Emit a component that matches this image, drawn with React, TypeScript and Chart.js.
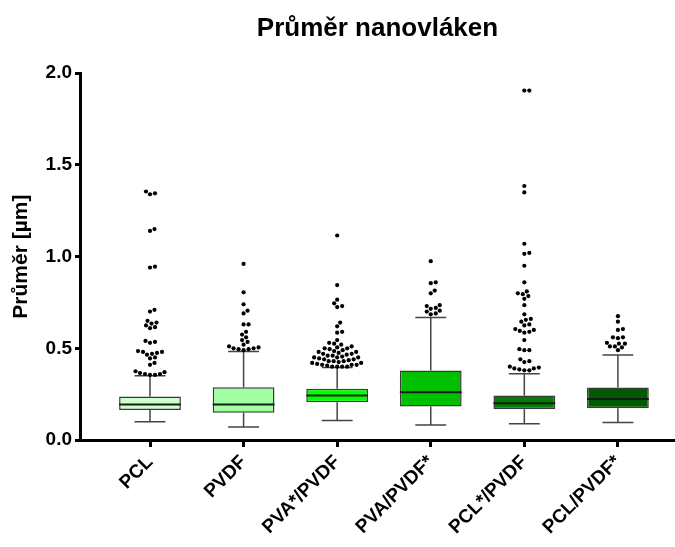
import { useEffect, useRef } from "react";
import { Chart, registerables } from "chart.js";

Chart.register(...registerables);

const categories = ["PCL", "PVDF", "PVA*/PVDF", "PVA/PVDF*", "PCL*/PVDF", "PCL/PVDF*"];
const whiskerLow = [0.1, 0.071, 0.106, 0.082, 0.089, 0.095];
const q1 = [0.164, 0.149, 0.206, 0.182, 0.168, 0.173];
const median = [0.193, 0.193, 0.242, 0.26, 0.2, 0.224];
const q3 = [0.237, 0.288, 0.28, 0.379, 0.242, 0.286];
const whiskerHigh = [0.35, 0.483, 0.395, 0.668, 0.361, 0.464];

const outliersPCL = [1.355, 1.345, 1.34, 1.15, 1.14, 0.945, 0.94, 0.71, 0.7, 0.65, 0.64, 0.635, 0.625, 0.615, 0.61, 0.54, 0.535, 0.53, 0.485, 0.48, 0.48, 0.475, 0.47, 0.465, 0.45, 0.445, 0.42, 0.41, 0.375, 0.37, 0.365, 0.36, 0.36, 0.355, 0.355];
const outliersPVDF = [0.96, 0.805, 0.74, 0.705, 0.69, 0.63, 0.63, 0.59, 0.575, 0.56, 0.545, 0.535, 0.52, 0.51, 0.505, 0.5, 0.5, 0.495, 0.495, 0.49];
const outliersPVAsPVDF = [1.115, 0.845, 0.765, 0.745, 0.73, 0.725, 0.64, 0.62, 0.59, 0.585, 0.545, 0.53, 0.525, 0.52, 0.51, 0.505, 0.5, 0.5, 0.495, 0.49, 0.485, 0.48, 0.48, 0.475, 0.47, 0.47, 0.465, 0.46, 0.46, 0.455, 0.45, 0.45, 0.45, 0.445, 0.44, 0.44, 0.435, 0.43, 0.43, 0.43, 0.425, 0.42, 0.42, 0.415, 0.41, 0.41, 0.41, 0.405, 0.4, 0.4, 0.4, 0.4];
const outliersPVAPVDFs = [0.975, 0.86, 0.855, 0.815, 0.8, 0.735, 0.73, 0.72, 0.715, 0.705, 0.7, 0.69, 0.685];
const outliersPCLsPVDF = [1.905, 1.905, 1.385, 1.35, 1.07, 1.02, 1.015, 0.95, 0.86, 0.81, 0.8, 0.795, 0.785, 0.77, 0.735, 0.685, 0.66, 0.655, 0.645, 0.63, 0.625, 0.605, 0.6, 0.595, 0.59, 0.585, 0.545, 0.495, 0.49, 0.49, 0.44, 0.43, 0.425, 0.4, 0.395, 0.39, 0.39, 0.385, 0.38, 0.38];
const outliersPCLPVDFs = [0.675, 0.645, 0.605, 0.6, 0.56, 0.56, 0.555, 0.53, 0.525, 0.525, 0.51, 0.51, 0.505, 0.49];
const outliers = [outliersPCL, outliersPVDF, outliersPVAsPVDF, outliersPVAPVDFs, outliersPCLsPVDF, outliersPCLPVDFs];

const boxColors = ["#ccffcc", "#a0ffa0", "#00ff00", "#00c000", "#008000", "#005a00"];
const yTicks = [0, 0.5, 1, 1.5, 2];

const FONT = "'Liberation Sans', Arial, sans-serif";

const boxPlugin = {
  id: "boxExtras",
  beforeDatasetsDraw(chart: any) {
    const { ctx, scales } = chart;
    const x = scales.x;
    const y = scales.y;
    const meta = chart.getDatasetMeta(0);
    ctx.save();
    ctx.strokeStyle = "#444";
    ctx.lineWidth = 1.5;
    categories.forEach((_, i) => {
      const bar = meta.data[i];
      const cx = x.getPixelForValue(i);
      const capHalf = bar.width / 4;
      const yh = y.getPixelForValue(whiskerHigh[i]);
      const yq3 = y.getPixelForValue(q3[i]);
      const yl = y.getPixelForValue(whiskerLow[i]);
      const yq1 = y.getPixelForValue(q1[i]);
      ctx.beginPath();
      ctx.moveTo(cx, yq3);
      ctx.lineTo(cx, yh);
      ctx.moveTo(cx - capHalf, yh);
      ctx.lineTo(cx + capHalf, yh);
      ctx.moveTo(cx, yq1);
      ctx.lineTo(cx, yl);
      ctx.moveTo(cx - capHalf, yl);
      ctx.lineTo(cx + capHalf, yl);
      ctx.stroke();
    });
    ctx.restore();
  },
  afterDatasetsDraw(chart: any) {
    const { ctx, scales } = chart;
    const x = scales.x;
    const y = scales.y;
    const meta = chart.getDatasetMeta(0);
    ctx.save();
    categories.forEach((_, i) => {
      const bar = meta.data[i];
      const cx = x.getPixelForValue(i);
      const half = bar.width / 2;
      const ym = y.getPixelForValue(median[i]);
      ctx.strokeStyle = "#1a1a1a";
      ctx.lineWidth = 2;
      ctx.beginPath();
      ctx.moveTo(cx - half, ym);
      ctx.lineTo(cx + half, ym);
      ctx.stroke();

      // beeswarm layout of outliers
      const D = 4.7;
      const placed: { dx: number; py: number }[] = [];
      const vals = [...outliers[i]].sort((a, b) => a - b);
      ctx.fillStyle = "#000";
      vals.forEach((v) => {
        const py = y.getPixelForValue(v);
        let chosen = 0;
        for (let k = 0; k < 400; k++) {
          const step = Math.ceil(k / 2) * 0.5;
          const dx = k % 2 === 1 ? step : -step;
          const ok = placed.every((p) => (p.dx - dx) ** 2 + (p.py - py) ** 2 >= D * D);
          if (ok) {
            chosen = dx;
            break;
          }
        }
        placed.push({ dx: chosen, py });
        ctx.beginPath();
        ctx.arc(cx + chosen, py, 2.1, 0, Math.PI * 2);
        ctx.fill();
      });
    });
    ctx.restore();
  },
};

export default function App() {
  const ref = useRef<HTMLCanvasElement | null>(null);
  useEffect(() => {
    if (!ref.current) return;
    Chart.defaults.font.family = FONT;
    const chart = new Chart(ref.current, {
      type: "bar",
      data: {
        datasets: [
          {
            data: categories.map((_, i) => ({ x: i, y: [q1[i], q3[i]] })) as any,
            backgroundColor: boxColors,
            borderColor: "#3a3a3a",
            borderWidth: 1.5,
            borderSkipped: false,
            barPercentage: 0.66,
            categoryPercentage: 1,
          },
        ],
      },
      options: {
        responsive: false,
        animation: false,
        layout: { padding: { top: 0, right: 0, bottom: 0, left: 0 } },
        plugins: {
          legend: { display: false },
          tooltip: { enabled: false },
          title: {
            display: true,
            text: "Průměr nanovláken",
            fullSize: false,
            color: "#000",
            font: { size: 26, weight: "bold", family: FONT },
            padding: { top: 13, bottom: 29 },
          },
        },
        scales: {
          x: {
            type: "linear",
            offset: false,
            min: -0.748,
            max: 5.61,
            afterBuildTicks: (scale: any) => {
              scale.ticks = categories.map((_, i) => ({ value: i }));
            },
            afterFit: (scale: any) => {
              scale.height = 107;
            },
            grid: {
              offset: false,
              drawOnChartArea: false,
              drawTicks: true,
              tickLength: 7,
              lineWidth: 3,
              color: "#000",
            },
            border: { display: true, width: 3, color: "#000" },
            ticks: {
              autoSkip: false,
              minRotation: 45,
              maxRotation: 45,
              color: "#000",
              padding: 4,
              font: { size: 19, weight: "bold", family: FONT },
              callback: (_v: any, idx: number) => categories[idx],
            },
          },
          y: {
            type: "linear",
            min: 0,
            max: 2,
            afterBuildTicks: (scale: any) => {
              scale.ticks = yTicks.map((v) => ({ value: v }));
            },
            afterFit: (scale: any) => {
              scale.width = 80;
            },
            grid: {
              drawOnChartArea: false,
              drawTicks: true,
              tickLength: 5,
              lineWidth: 3,
              color: "#000",
            },
            border: { display: true, width: 3, color: "#000" },
            title: {
              display: true,
              text: "Průměr [µm]",
              color: "#000",
              font: { size: 21, weight: "bold", family: FONT },
              padding: { top: 9, bottom: 4 },
            },
            ticks: {
              color: "#000",
              padding: 3,
              font: { size: 19, weight: "bold", family: FONT },
              callback: (v: any) => Number(v).toFixed(1),
            },
          },
        },
      },
      plugins: [boxPlugin],
    });
    return () => chart.destroy();
  }, []);
  return (
    <div style={{ position: "fixed", left: 0, top: 0, width: 675, height: 547, background: "#fff" }}>
      <canvas ref={ref} width={675} height={547} style={{ display: "block" }} />
    </div>
  );
}
